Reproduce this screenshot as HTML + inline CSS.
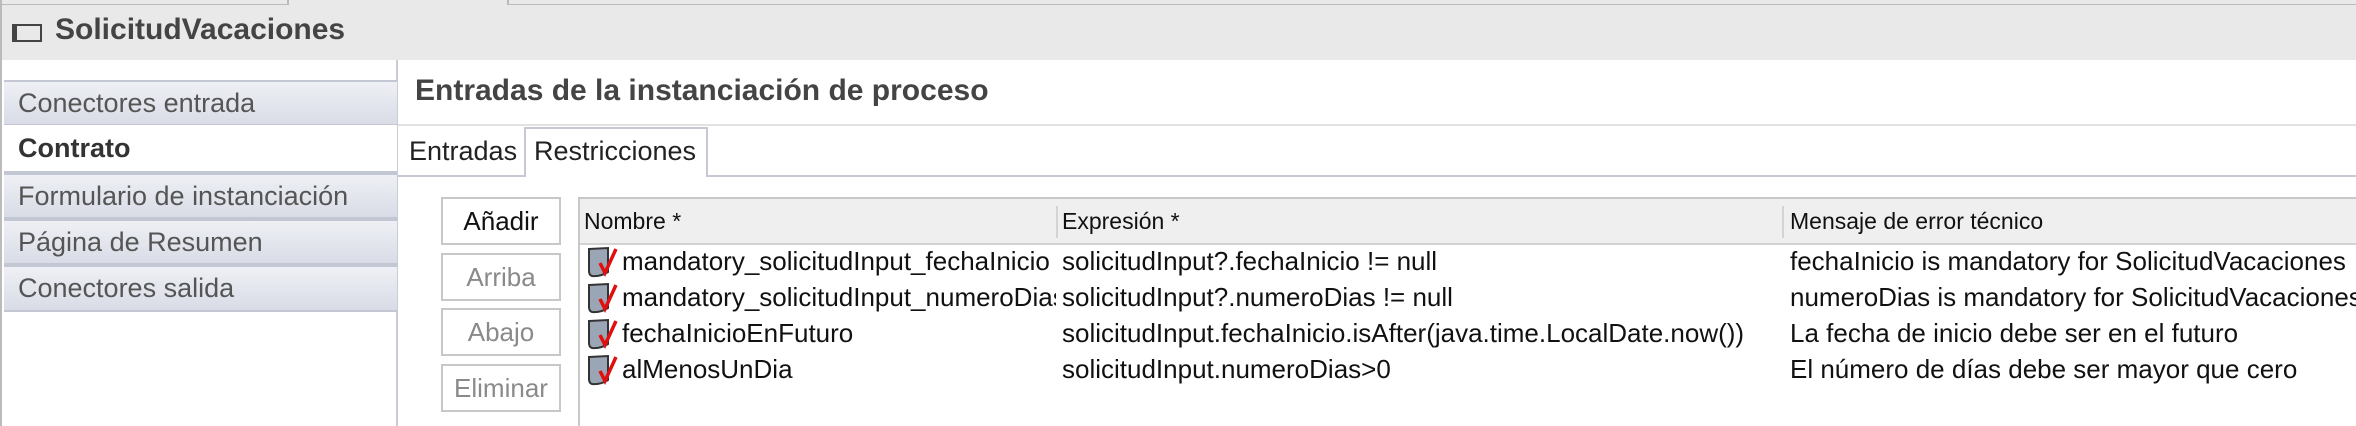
<!DOCTYPE html>
<html><head><meta charset="utf-8"><style>
body{margin:0;width:2356px;height:426px;overflow:hidden;background:#fff;font-family:"Liberation Sans",Arial,sans-serif;position:relative}
.a{position:absolute;white-space:nowrap}
.side{position:absolute;left:4px;width:393px;background:linear-gradient(#eef0f5,#d9dce6);border-top:2px solid #c3c7d3;border-bottom:2px solid #c3c7d3;box-sizing:border-box;font-size:27px;color:#555;padding-left:14px;display:flex;align-items:center}
.btn{position:absolute;left:441px;width:120px;height:48px;border:2px solid #c8c8c8;box-sizing:border-box;font-size:26px;color:#8a8a8a;display:flex;align-items:center;justify-content:center;background:#fff}
.row{position:absolute;font-size:26px;color:#111;white-space:nowrap}
.ic{position:absolute;left:586px;width:34px;height:32px}
</style></head><body>
<div class="a" style="left:0;top:0;width:2356px;height:60px;background:#e9e9e9"></div>
<div class="a" style="left:0;top:0;width:287px;height:4px;border-bottom:1px solid #bbb;border-right:2px solid #bbb"></div>
<div class="a" style="left:507px;top:0;width:1849px;height:4px;border-bottom:1px solid #bbb;border-left:2px solid #bbb"></div>
<div class="a" style="left:0;top:0;width:2px;height:426px;background:#bbb"></div>
<div class="a" style="left:12px;top:24px;width:30px;height:18px;border:2px solid #444;border-left-width:5px;box-sizing:border-box"></div>
<div class="a" style="left:55px;top:13px;font-size:30px;font-weight:bold;color:#444">SolicitudVacaciones</div>
<div class="a" style="left:396px;top:60px;width:2px;height:366px;background:#c9ccd6"></div>
<div class="side" style="top:80px;height:46px">Conectores entrada</div>
<div class="side" style="top:125px;height:48px;background:#fff;border-top:none;color:#333;font-weight:bold">Contrato</div>
<div class="side" style="top:173px;height:46px">Formulario de instanciación</div>
<div class="side" style="top:219px;height:46px">Página de Resumen</div>
<div class="side" style="top:265px;height:47px">Conectores salida</div>
<div class="a" style="left:415px;top:74px;font-size:30px;font-weight:bold;color:#444">Entradas de la instanciación de proceso</div>
<div class="a" style="left:398px;top:124px;width:1958px;height:2px;background:#e2e2e2"></div>
<div class="a" style="left:409px;top:136px;font-size:27px;color:#222">Entradas</div>
<div class="a" style="left:398px;top:175px;width:1958px;height:2px;background:#c6c9d3"></div>
<div class="a" style="left:524px;top:127px;width:184px;height:50px;background:#fff;border:2px solid #c6c9d3;border-bottom:none;box-sizing:border-box"></div>
<div class="a" style="left:534px;top:136px;font-size:27px;color:#222">Restricciones</div>
<div class="btn" style="top:197px;color:#111">Añadir</div>
<div class="btn" style="top:253px">Arriba</div>
<div class="btn" style="top:308px">Abajo</div>
<div class="btn" style="top:364px">Eliminar</div>
<div class="a" style="left:578px;top:197px;width:1778px;height:229px;border-left:2px solid #c8c8c8;border-top:2px solid #c8c8c8;box-sizing:border-box"></div>
<div class="a" style="left:580px;top:199px;width:1776px;height:46px;background:#efefef;border-bottom:2px solid #d2d2d2;box-sizing:border-box"></div>
<div class="a" style="left:1056px;top:206px;width:2px;height:32px;background:#d4d4d4"></div>
<div class="a" style="left:1782px;top:206px;width:2px;height:32px;background:#d4d4d4"></div>
<div class="a" style="left:584px;top:208px;font-size:23px;color:#111">Nombre *</div>
<div class="a" style="left:1062px;top:208px;font-size:23px;color:#111">Expresión *</div>
<div class="a" style="left:1790px;top:208px;font-size:23px;color:#111">Mensaje de error técnico</div>
<svg width="0" height="0" style="position:absolute"><defs><symbol id="i" viewBox="0 0 34 32"><path d="M3 3 L22 2 L22 26 Q14 31 6 30 Q3 29 3 25 Z" fill="#9aa6b6" stroke="#333" stroke-width="2"/><path d="M14 17 L19 27 L30 3" fill="none" stroke="#e01010" stroke-width="3.5"/></symbol></defs></svg>
<svg class="ic" style="top:246px"><use href="#i"/></svg>
<svg class="ic" style="top:282px"><use href="#i"/></svg>
<svg class="ic" style="top:318px"><use href="#i"/></svg>
<svg class="ic" style="top:354px"><use href="#i"/></svg>
<div class="row" style="left:622px;top:246px;width:434px;overflow:hidden">mandatory_solicitudInput_fechaInicio</div>
<div class="row" style="left:622px;top:282px;width:434px;overflow:hidden">mandatory_solicitudInput_numeroDias</div>
<div class="row" style="left:622px;top:318px">fechaInicioEnFuturo</div>
<div class="row" style="left:622px;top:354px">alMenosUnDia</div>
<div class="row" style="left:1062px;top:246px">solicitudInput?.fechaInicio != null</div>
<div class="row" style="left:1062px;top:282px">solicitudInput?.numeroDias != null</div>
<div class="row" style="left:1062px;top:318px">solicitudInput.fechaInicio.isAfter(java.time.LocalDate.now())</div>
<div class="row" style="left:1062px;top:354px">solicitudInput.numeroDias&gt;0</div>
<div class="row" style="left:1790px;top:246px">fechaInicio is mandatory for SolicitudVacaciones</div>
<div class="row" style="left:1790px;top:282px">numeroDias is mandatory for SolicitudVacaciones</div>
<div class="row" style="left:1790px;top:318px">La fecha de inicio debe ser en el futuro</div>
<div class="row" style="left:1790px;top:354px">El número de días debe ser mayor que cero</div>
</body></html>
